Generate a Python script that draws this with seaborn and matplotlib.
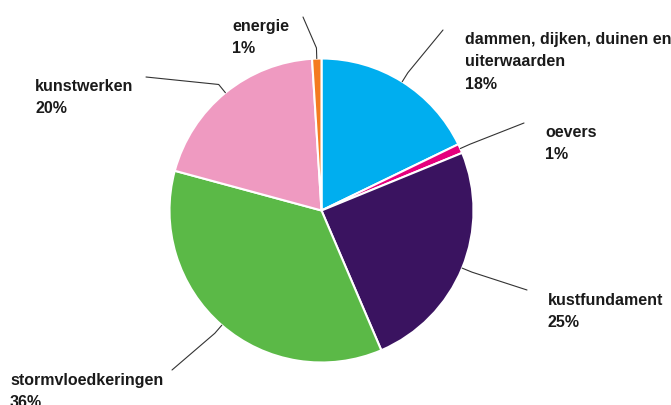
import numpy as np
import matplotlib
matplotlib.use("Agg")
import matplotlib.pyplot as plt
import seaborn as sns

# data (clockwise from 12 o'clock)
categories = ["dammen, dijken, duinen en\nuiterwaarden", "oevers", "kustfundament",
              "stormvloedkeringen", "kunstwerken", "energie"]
percentages = [18, 1, 25, 36, 20, 1]
colors = ["#00AEEF", "#E5007D", "#3A1360", "#5BB947", "#EF9AC1", "#F47B20"]

# label layout in pixel space (x, first baseline from top) and leader-line end points
label_pos = [(465, 44), (545, 137), (548, 305), (10, 385), (35, 91), (232, 31)]
line_end = [(443, 30), (524, 123), (527, 290), (172, 370), (146, 77), (303, 17)]

W, H = 671, 405
cx, cy, r = 321.5, 210.5, 152

sns.set_style("white")
plt.rcParams['font.family'] = ['Liberation Sans', 'DejaVu Sans']

fig = plt.figure(figsize=(W / 100, H / 100), dpi=100)
ax = fig.add_axes([0, 0, 1, 1])

wedges, _ = ax.pie(percentages, colors=sns.color_palette(colors), startangle=90,
                   counterclock=False, center=(cx, H - cy), radius=r,
                   wedgeprops=dict(edgecolor="white", linewidth=1.5))
ax.set_aspect("auto")
ax.set_xlim(0, W)
ax.set_ylim(0, H)
ax.axis("off")

total = sum(percentages)
cum = np.cumsum([0] + percentages)
for i, lab in enumerate(categories):
    mid = (cum[i] + percentages[i] / 2) / total * 2 * np.pi
    sx, sy = np.sin(mid), np.cos(mid)
    p0 = (cx + r * sx, H - cy + r * sy)
    p1 = (cx + r * 1.07 * sx, H - cy + r * 1.07 * sy)
    ex, ey = line_end[i]
    ax.plot([p0[0], p1[0], ex], [p0[1], p1[1], H - ey], color="#333333", lw=0.8)
    lines = lab.split("\n") + [f"{percentages[i]}%"]
    tx, ty = label_pos[i]
    for j, ln in enumerate(lines):
        ax.text(tx, H - (ty + j * 22.3), ln, fontsize=11.5, fontweight="bold",
                color="#1a1a1a", ha="left", va="baseline")

fig.savefig("out.png", dpi=100)
